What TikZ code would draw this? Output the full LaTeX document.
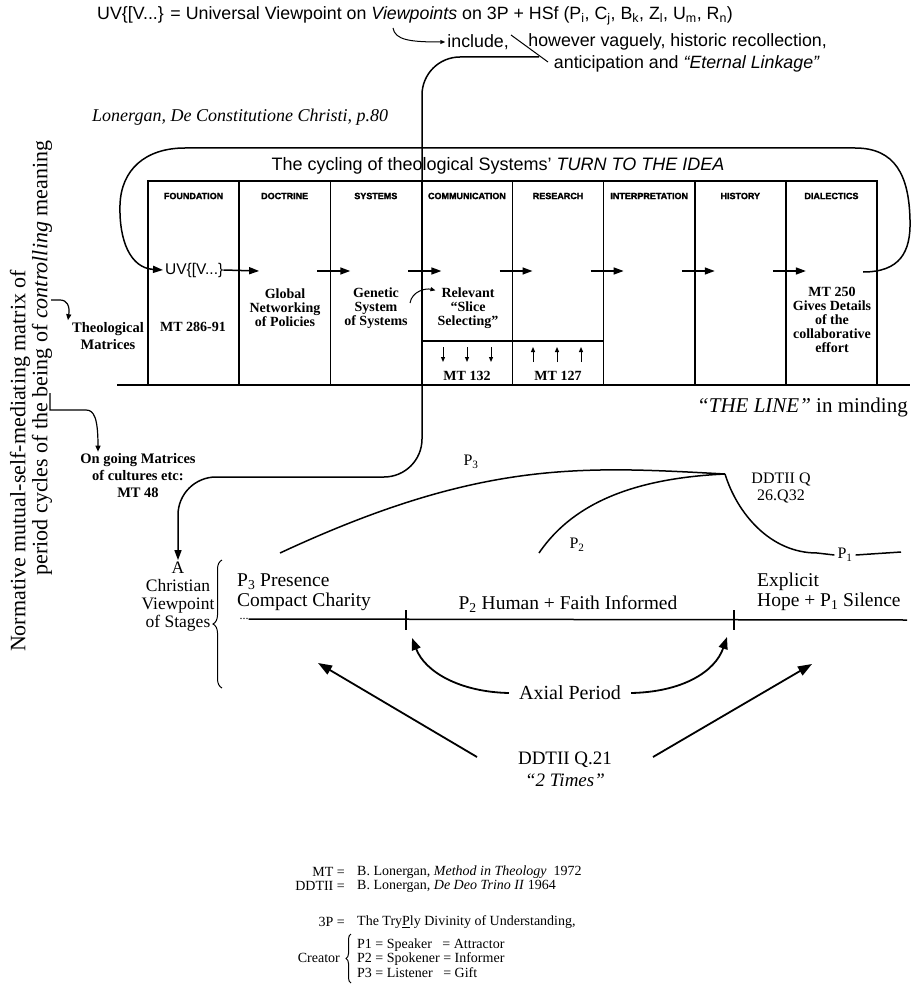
\documentclass[tikz,border=0pt]{standalone}
\usepackage{fontspec}
\setmainfont{Liberation Serif}
\setsansfont{Liberation Sans}
\newfontfamily\heavysans{Liberation Sans}[BoldFeatures={FakeBold=2}]
\usetikzlibrary{arrows.meta,decorations.pathreplacing}

\newcommand{\fsz}[2]{\fontsize{#1}{#2}\selectfont}

\begin{document}
\begin{tikzpicture}[x=1pt,y=-1pt,
    every node/.style={inner sep=0pt},
    thickline/.style={line width=1.5pt},
    colarrow/.style={line width=1.5pt,-{Triangle[length=10pt,width=7pt]}},
    bigarrow/.style={line width=1.8pt,-{Triangle[length=14pt,width=10pt]}},
    axarrow/.style={line width=1.8pt,-{Triangle[length=12pt,width=9pt]}},
    smallarrow/.style={line width=1.2pt,-{Triangle[length=6pt,width=5pt]}},
    tinyarrow/.style={line width=1pt,-{Triangle[length=5pt,width=4pt]}},
    curlybrace/.style={line width=1pt,decorate,decoration={brace,amplitude=#1}},
    colhead/.style={font=\heavysans\bfseries\fsz{9}{10}},
    boxtext/.style={font=\bfseries\fsz{14}{14}, align=center},
    sidetext/.style={font=\bfseries\fsz{14.5}{17}, align=center},
    toptext/.style={font=\sffamily\fsz{17.8}{19}},
    stagetext/.style={font=\fsz{19.5}{20}, align=left},
    reftext/.style={font=\fsz{16}{17}, align=center},
    legend/.style={font=\fsz{14}{14.5}}]

\useasboundingbox (0,0) rectangle (917,984);

% First, the texts along the top
    \node[toptext, anchor=west] (uvdef) at (97,16) {UV\{[V...\} = Universal Viewpoint on \textit{Viewpoints} on 3P + HSf (P\textsubscript{i}, C\textsubscript{j}, B\textsubscript{k}, Z\textsubscript{l}, U\textsubscript{m}, R\textsubscript{n})};
    \node[toptext, anchor=east] (incl) at (509,42) {include,};
    \node[toptext, anchor=east] (howev) at (827,42) {however vaguely, historic recollection,};
    \node[toptext, anchor=east] (antic) at (820,64) {anticipation and \textit{“Eternal Linkage”}};
    \node[font=\itshape\fsz{18}{20}, anchor=west] (lonref) at (92,117) {Lonergan, De Constitutione Christi, p.80};

    \coordinate (vpfoot) at (393,28);
    \coordinate (slashtop) at (511,35);
    \coordinate (slashbot) at (548,62);
    \coordinate (linkstart) at (539,57);

% The rotated side texts
    \node[font=\fsz{22}{22}, rotate=90] (normA) at (20,461) {Normative mutual-self-mediating matrix of};
    \node[font=\fsz{22}{22}, rotate=90] (normB) at (42,358) {period cycles of the being of \textit{controlling} meaning};
    \coordinate (ctrlend) at (51,300);
    \coordinate (beingend) at (50,393);
    \node[sidetext] (theomat) at (108,336) {Theological\\Matrices};
    \node[sidetext] (ongoing) at (138,476) {On going Matrices\\of cultures etc:\\MT 48};

% The table of the eight specialties
    \node[font=\sffamily\fsz{18}{20}] (cyctitle) at (498,166) {The cycling of theological Systems’ \textit{TURN TO THE IDEA}};
    \foreach \hd [count=\i] in {FOUNDATION,DOCTRINE,SYSTEMS,COMMUNICATION,RESEARCH,INTERPRETATION,HISTORY,DIALECTICS}
        \node[colhead] (hd\i) at ({148+91.125*(\i-0.5)},196) {\hd};

    \node[font=\sffamily\fsz{15.5}{17}, anchor=west] (uvbox) at (165,270) {UV\{[V...\}};
    \node[boxtext] (fnd) at (193,327) {MT 286-91};
    \node[boxtext] (doc) at (285,308) {Global\\Networking\\of Policies};
    \node[boxtext] (sys) at (376,308) {Genetic\\System\\of Systems};
    \node[boxtext] (relev) at (468,308) {Relevant\\“Slice\\Selecting”};
    \node[boxtext] (mt132) at (467,376) {MT 132};
    \node[boxtext] (mt127) at (558,376) {MT 127};
    \node[boxtext] (dial) at (832,320) {MT 250\\Gives Details\\of the\\collaborative\\effort};
    \node[font=\fsz{21}{22}, anchor=east] (theline) at (908,407) {\textit{“THE LINE”} in minding};

    \coordinate (loopstart) at (863,272);
    \coordinate (relfoot) at (410,303);

% The stages below the line
    \node[font=\fsz{17.5}{18}, align=center] (chrview) at (178,597) {A\\Christian\\Viewpoint\\of Stages};
    \node[stagetext, anchor=west] (p3pres) at (237,592) {P\textsubscript{3} Presence\\Compact Charity};
    \node[stagetext] (p2hum) at (568,604) {P\textsubscript{2} Human + Faith Informed};
    \node[stagetext, anchor=west] (expl) at (757,592) {Explicit\\Hope + P\textsubscript{1} Silence};
    \node[font=\fsz{12}{12}] (dots) at (244,619) {...};
    \coordinate (tick1) at (406,620);
    \coordinate (tick2) at (734,620);
    \coordinate (lineend) at (907,620);

    \coordinate (conv) at (725,474);
    \coordinate (p3foot) at (280,553);
    \coordinate (p2foot) at (539,553);
    \coordinate (p1end) at (901,552);
    \node[font=\fsz{16}{16}] (p3lab) at (471,462) {P\textsubscript{3}};
    \node[font=\fsz{16}{16}] (p2lab) at (577,545) {P\textsubscript{2}};
    \node[font=\fsz{16}{16}] (p1lab) at (845,555) {P\textsubscript{1}};
    \node[reftext] (ddq) at (781,488) {DDTII Q\\26.Q32};

    \node[font=\fsz{20}{22}] (axial) at (570,693) {Axial Period};
    \node[font=\fsz{19}{22}, align=center] (ddq21) at (565,769) {DDTII Q.21\\\textit{“2 Times”}};
    \coordinate (ltail) at (477,757);
    \coordinate (ltip) at (318,663);
    \coordinate (rtail) at (653,757);
    \coordinate (rtip) at (812,664);

% The legend
    \node[legend, anchor=east] (mtkey) at (345,872) {MT =};
    \node[legend, anchor=west] (mtval) at (357,872) {B. Lonergan, \textit{Method in Theology}\ \ 1972};
    \node[legend, anchor=east] (ddkey) at (345,886) {DDTII =};
    \node[legend, anchor=west] (ddval) at (357,886) {B. Lonergan, \textit{De Deo Trino II} 1964};
    \node[legend, anchor=east] (tpkey) at (345,922) {3P =};
    \node[legend, anchor=west] (tpval) at (357,922) {The Try\underline{P}ly Divinity of Understanding,};
    \node[legend, anchor=east] (creator) at (340,958) {Creator};
    \node[legend, anchor=west, align=left] (persons) at (357,958) {P1 = Speaker\ \ \ = Attractor\\P2 = Spokener = Informer\\P3 = Listener\ \ \ = Gift};

% Now draw the lines:
    \draw[tinyarrow] (vpfoot) .. controls (395,40) and (410,42) .. ([xshift=-2pt]incl.west);
    \draw[line width=1pt] (slashtop) -- (slashbot);
    \draw[colarrow, rounded corners=38pt] (linkstart) -- (422,57) -- (422,477) -- (178,477) -- ([yshift=2pt]chrview.north);

    \draw[thickline] (148,385) -- (148,181) -- (877,181) -- (877,385);
    \draw[thickline] (117,385) -- (910,385);
    \foreach \i in {1,...,7}
        \draw[thickline] ({148+91.125*\i},181) -- ({148+91.125*\i},385);
    \draw[thickline] (422,341) -- (604,341);

    \foreach \i in {2,...,7} {
        \coordinate (as\i) at ({148+91.125*\i-13},271);
        \coordinate (ae\i) at ({148+91.125*\i+20},271);
        \draw[colarrow] (as\i) -- (ae\i);
    }
    \coordinate (ae1) at ({148+91.125+20},271);
    \draw[colarrow] (uvbox.east) -- (ae1);

    \foreach \x in {443,467,491} {
        \coordinate (dtop) at (\x,347);
        \coordinate (dbot) at (\x,362);
        \draw[tinyarrow] (dtop) -- (dbot);
    }
    \foreach \x in {533,557,581} {
        \coordinate (utop) at (\x,347);
        \coordinate (ubot) at (\x,362);
        \draw[tinyarrow] (ubot) -- (utop);
    }
    \draw[tinyarrow] (relfoot) .. controls (412,291) and (426,288) .. ([xshift=-2pt,yshift=-3pt]relev.north west);

    \draw[colarrow] (loopstart) .. controls (900,272) and (911,252) .. (910,220)
        .. controls (909,175) and (895,148) .. (855,148) -- (185,148)
        .. controls (145,148) and (121,170) .. (120,205)
        .. controls (119,240) and (130,268) .. ([xshift=-2pt]uvbox.west);

    \draw[smallarrow] (ctrlend) -- (60,300) .. controls (67,300) and (70,306) .. ([xshift=-4pt,yshift=2pt]theomat.north west);
    \draw[smallarrow] (beingend) -- (50,410) -- (86,410) .. controls (94,410) and (98,418) .. ([xshift=-40pt,yshift=2pt]ongoing.north);

    \draw[curlybrace=9pt] (222,688) -- (222,560);
    \draw[thickline] (dots.east) -- (lineend);
    \draw[thickline] ([yshift=10pt]tick1) -- ([yshift=-10pt]tick1);
    \draw[thickline] ([yshift=10pt]tick2) -- ([yshift=-10pt]tick2);

    \draw[thickline] (p3foot) .. controls (480,460) and (580,466) .. (conv);
    \draw[thickline] (p2foot) .. controls (575,500) and (640,478) .. (conv);
    \draw[thickline] (conv) .. controls (737,513) and (770,553) .. (817,553) -- ([xshift=-3pt]p1lab.west);
    \draw[thickline] ([xshift=3pt]p1lab.east) -- (p1end);

    \draw[axarrow] ([xshift=-10pt]axial.west) .. controls (460,692) and (425,672) .. ([shift={(6pt,-18pt)}]tick1);
    \draw[axarrow] ([xshift=10pt]axial.east) .. controls (682,692) and (715,672) .. ([shift={(-7pt,-17pt)}]tick2);
    \draw[bigarrow] (ltail) -- (ltip);
    \draw[bigarrow] (rtail) -- (rtip);

    \draw[curlybrace=5pt] (351,983) -- (351,934);
\end{tikzpicture}
\end{document}
